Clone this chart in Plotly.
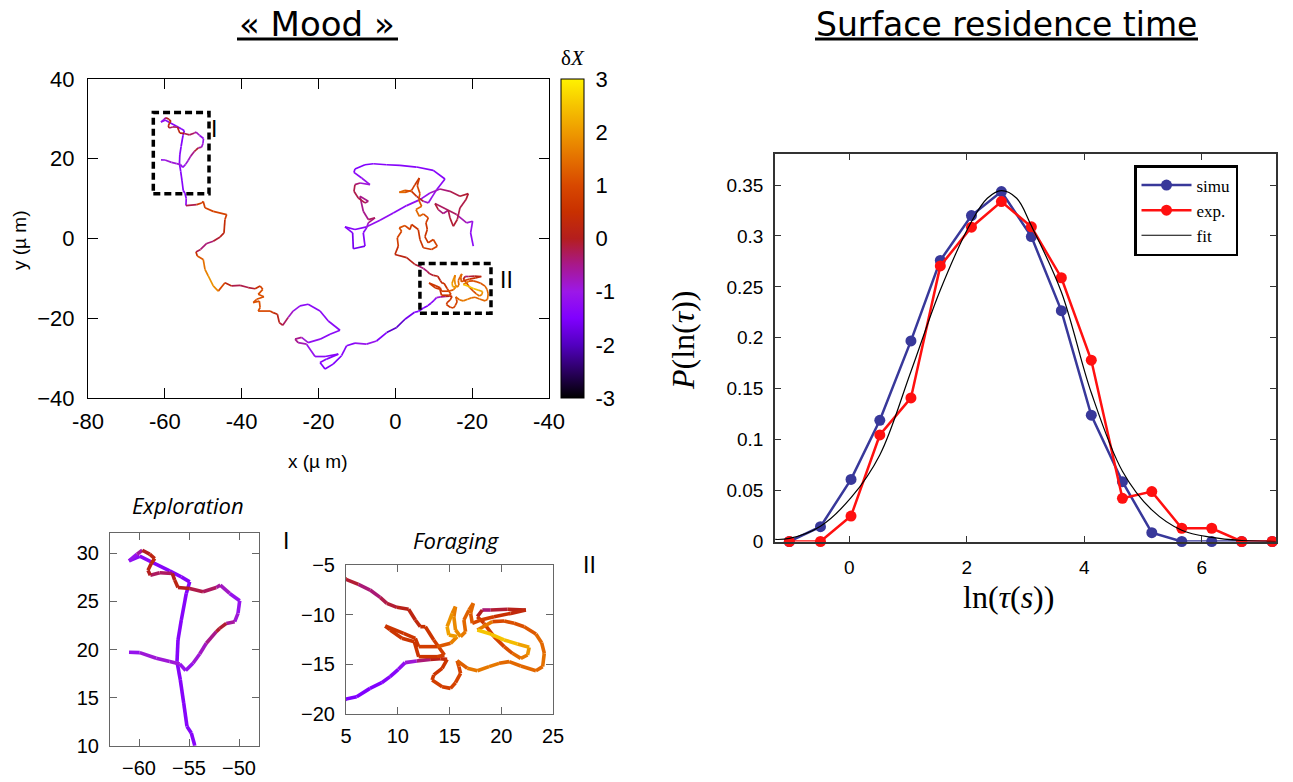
import plotly.graph_objects as go
from plotly.colors import sample_colorscale

W, H = 1293, 782

# ---------------------------------------------------------------------------
# Cell trajectory (µm) with the mood variable δX along it
# ---------------------------------------------------------------------------
explore_x = [-61.0, -59.93, -58.27, -56.93, -55.93, -55.33, -54.6, -53.93, -53.27, -52.27,
             -51.93, -51.27, -50.43, -50.1, -49.93, -50.93, -51.87, -52.27, -53.6, -54.93,
             -56.1, -56.43, -56.67, -57.93, -58.87, -59.1, -58.77, -58.43, -58.93, -59.67,
             -60.2, -61.0, -59.93, -58.77, -56.93, -55.77, -54.93, -55.27, -55.77, -56.1,
             -56.2, -55.87, -55.53, -55.2, -54.77, -54.43]
explore_y = [19.72, 19.69, 19.1, 18.76, 18.52, 17.83, 18.59, 19.55, 20.66, 21.86,
             22.2, 22.72, 22.9, 23.76, 25.07, 25.83, 26.69, 26.45, 26.0, 26.34,
             26.45, 27.21, 27.9, 27.97, 27.72, 28.24, 28.93, 29.45, 29.9, 30.31,
             29.9, 29.2, 29.69, 29.1, 28.17, 27.55, 27.03, 25.83, 23.07, 21.0,
             18.76, 16.86, 14.45, 12.03, 11.34, 10.07]
explore_dx = [-1.1, -1.0, -0.9, -0.9, -1.0, -1.3, -1.0, -0.9, -0.7, -0.3,
              0.1, -0.3, -0.8, -1.0, -1.3, -1.0, -0.7, -0.5, -0.2, -0.1,
              0.1, 0.2, -0.3, -0.4, -0.2, 0.2, 0.3, 0.3, 0.2, -0.2,
              -0.9, -1.3, -1.3, -1.3, -1.4, -1.4, -1.4, -1.4, -1.4, -1.4,
              -1.4, -1.4, -1.4, -1.4, -1.4, -1.5]

transit_x = [-54.5, -51.7, -50.4, -50.0, -49.55, -47.4, -43.9, -44.35, -44.6, -45.6,
             -47.4, -49.1, -50.7, -51.9, -51.55, -50.0, -49.55, -48.7, -47.4, -46.1,
             -44.35, -42.6, -40.4, -38.3, -36.5, -35.2, -34.5, -35.7, -34.2, -36.1,
             -37.0, -35.4, -35.2, -35.7, -32.6, -31.8, -30.7, -30.2, -29.3, -27.9,
             -26.6, -24.8, -22.7, -19.6, -17.45, -14.4, -17.0, -19.6, -22.7, -24.4,
             -26.1, -25.3, -23.1, -20.9, -18.3, -14.85, -17.9, -19.6, -18.3, -16.2,
             -14.0, -12.7, -10.5, -7.5, -4.9, -2.25, 0.35, 2.5]
transit_y = [8.25, 8.5, 8.9, 9.3, 7.7, 6.8, 6.0, 4.75, 1.4, 0.4,
             -0.7, -1.25, -2.75, -3.4, -4.4, -5.25, -7.75, -9.4, -11.9, -13.2,
             -11.1, -11.9, -11.75, -12.3, -12.6, -11.9, -12.75, -14.0, -14.6, -15.25,
             -16.1, -15.7, -17.3, -18.2, -18.2, -18.6, -19.0, -21.1, -21.75, -19.8,
             -18.2, -16.9, -16.5, -18.2, -20.7, -23.0, -24.0, -25.25, -26.1, -24.8,
             -25.25, -26.1, -26.5, -29.6, -29.6, -29.0, -30.25, -31.1, -32.75, -31.5,
             -29.4, -26.9, -26.25, -26.5, -25.7, -23.6, -22.3, -20.25]
transit_dx = [-1.0, 0.6, 0.8, 0.8, 0.8, 0.9, 1.0, 0.6, 0.2, 0.0,
              -0.3, -0.5, -0.3, -0.1, 1.2, 1.3, 1.6, 1.8, 1.9, 1.6,
              0.4, -0.1, -0.2, -0.1, 0.0, 0.9, 1.0, 1.1, 1.0, 1.1,
              1.2, 1.0, 1.2, 1.1, 0.8, 0.5, 0.2, 0.0, -0.2, -0.5,
              -1.0, -1.3, -1.3, -1.3, -1.3, -1.3, -1.3, -1.3, -1.1, -0.6,
              -0.4, -0.5, -0.9, -1.3, -1.3, -1.4, -1.4, -1.5, -1.5, -1.5,
              -1.5, -1.4, -1.3, -1.0, -1.3, -1.6, -2.2, -1.6]

forage_x = [5.0, 6.03, 7.32, 8.45, 9.26, 10.06, 10.71, 11.84, 13.13,
            14.13, 14.77, 14.29, 13.48, 13.32, 14.29, 15.10, 15.58, 16.07, 15.91,
            15.74, 16.72, 17.69, 18.82, 19.79, 20.76, 21.89, 23.35, 24.0, 24.16,
            23.9, 23.35, 22.22, 21.25, 20.28, 19.14, 17.69, 18.98, 20.28, 21.57,
            22.70, 22.54, 21.89, 21.08, 20.28, 19.30, 18.33, 17.69, 18.17, 18.98,
            20.60, 22.38, 20.92, 19.30, 18.01, 17.20, 17.04, 17.30, 16.88, 16.39,
            16.55, 16.07, 15.58, 15.42, 15.58, 15.26, 14.77, 14.94, 15.74, 15.10,
            13.80, 12.02, 11.70, 10.57, 8.79, 9.27, 10.40, 11.60, 12.02, 13.80,
            14.51, 13.48, 12.67, 12.18, 11.70, 11.05, 9.92, 8.95, 8.30, 7.33,
            6.20, 5.0, 2.95]
forage_y = [-18.49, -18.26, -17.42, -16.85, -16.24, -15.5, -14.83, -14.66, -14.5,
            -14.43, -14.50, -15.40, -16.07, -16.58, -17.25, -17.42, -16.85, -15.91, -15.23,
            -14.63, -15.40, -15.64, -15.23, -14.90, -14.73, -15.17, -15.64, -15.23, -13.89,
            -12.82, -11.95, -11.21, -10.87, -10.64, -10.70, -11.54, -11.95, -12.55, -12.95,
            -13.29, -14.06, -14.40, -13.89, -13.22, -12.21, -10.87, -10.20, -9.53, -9.53,
            -9.46, -9.53, -9.87, -10.20, -10.54, -10.87, -9.87, -8.86, -9.53, -10.54,
            -11.71, -12.21, -11.54, -10.20, -9.19, -9.87, -11.21, -12.05, -12.21, -12.89,
            -13.22, -13.22, -12.38, -11.88, -11.14, -11.54, -12.38, -12.72, -14.23, -14.23,
            -14.06, -12.55, -11.21, -11.21, -10.54, -9.46, -9.26, -8.86, -8.26, -7.52,
            -6.95, -6.44, -4.8]
forage_dx = [-1.5, -1.5, -1.5, -1.5, -1.4, -1.3, -1.1, -0.6, -0.3,
             0.2, 0.5, 0.6, 0.7, 0.7, 0.8, 0.8, 0.9, 0.9, 1.0,
             1.1, 1.5, 1.7, 1.6, 1.5, 1.4, 1.5, 1.4, 1.5, 1.5,
             1.4, 1.3, 1.2, 1.1, 1.0, 1.0, 2.3, 2.6, 2.5, 2.3,
             2.0, 1.7, 1.5, 1.2, 1.0, 0.9, 0.7, 0.5, -0.5, -0.3,
             0.0, 0.2, 0.4, 0.6, 0.9, 1.1, 1.3, 1.4, 1.3, 1.3,
             1.5, 1.7, 1.8, 1.7, 1.6, 1.8, 2.0, 2.2, 1.9, 1.5,
             1.0, 0.7, 0.6, 0.6, 0.5, 0.5, 0.6, 0.6, 0.6, 0.7,
             0.8, 0.7, 0.5, 0.4, 0.3, 0.2, 0.0, -0.2, -0.3, -0.5,
             -0.3, 0.0, 0.1]

cluster_x = [-0.09, 0.77, 0.51, 1.64, 1.03, 2.51, 3.81, 4.24, 5.98, 6.41,
             7.28, 9.45, 10.92, 9.88, 8.58, 7.71, 8.32, 7.97, 8.58, 7.28,
             6.24, 5.37, 6.85, 6.07, 6.41, 5.72, 6.24, 5.11, 4.24, 2.51,
             1.03, 2.51, 4.24, 5.54, 7.28, 8.58, 10.75, 12.92, 9.88, 5.54,
             1.21, -2.26, -5.73, -7.9, -10.51, -10.77, -8.77, -6.6, -9.2, -10.51,
             -10.77, -9.64, -7.9, -7.04, -9.2, -8.34, -7.04, -5.3, -7.04, -7.47,
             -8.34, -7.9, -10.94, -11.11, -13.11, -10.51, -7.47, -4.0, -0.53, 2.94,
             6.41, 9.02, 11.62, 14.22, 16.82, 18.99, 18.39, 16.82, 16.13, 15.09,
             14.22, 13.79, 12.49, 11.18, 10.32, 15.96, 18.56, 20.12, 19.6, 20.29]
cluster_y = [-4.0, -1.92, 0.17, 1.83, 2.67, 3.25, 2.25, 3.5, 2.25, -0.25,
             -2.33, -2.75, -1.92, -0.25, -1.08, 0.42, 2.25, 3.92, 5.17, 6.17,
             5.58, 7.25, 8.08, 9.75, 11.25, 13.25, 15.17, 13.5, 12.08, 11.58,
             11.58, 12.08, 11.83, 10.58, 9.33, 8.92, 12.25, 14.92, 17.08, 17.92,
             18.33, 18.5, 18.75, 18.5, 17.42, 16.58, 15.17, 13.5, 13.92, 13.5,
             11.83, 10.17, 8.92, 9.33, 10.58, 6.83, 4.75, 5.17, 3.92, 2.67,
             1.42, -1.92, -2.58, 1.42, 2.92, 2.25, 2.92, 4.58, 6.42, 8.25,
             9.75, 11.42, 12.42, 11.83, 10.58, 11.25, 9.75, 7.67, 4.75, 3.08,
             5.17, 7.08, 6.25, 7.25, 8.75, 6.0, 3.92, 4.33, 1.42, -1.92]
cluster_dx = [0.3, 0.6, 0.9, 1.0, 1.1, 1.0, 0.8, 0.7, 0.6, 0.5,
              0.6, 0.8, 1.0, 0.9, 0.7, 0.6, 0.6, 0.7, 0.8, 1.2,
              1.4, 1.5, 1.3, 1.2, 1.1, 0.9, 0.5, 0.7, 1.0, 1.3,
              1.4, 1.2, 0.9, 0.3, -0.5, -1.0, -1.2, -1.4, -1.4, -1.4,
              -1.4, -1.4, -1.5, -1.5, -1.5, -1.4, -1.2, -1.1, -0.6, -0.3,
              -0.2, -0.1, -0.3, -0.6, -0.4, -0.5, -0.4, -0.3, -0.7, -1.2,
              -1.4, -1.5, -1.6, -1.5, -1.3, -1.4, -1.3, -1.2, -1.3, -1.3,
              -1.2, -1.0, -0.6, -0.3, -0.1, 0.0, -0.1, -0.2, -0.1, 0.0,
              -0.1, -0.4, -0.5, -0.3, 0.0, -0.6, -0.8, -1.0, -1.2, -1.4]

track_x = explore_x + transit_x + forage_x + cluster_x
track_y = explore_y + transit_y + forage_y + cluster_y
track_dx = explore_dx + transit_dx + forage_dx + cluster_dx

# zoom windows marked on the full track
box_I_x, box_I_y = [-63.0, -48.5], [11.2, 31.6]
box_II_x, box_II_y = [6.4, 24.9], [-18.75, -6.3]

main_xticks = [-80, -60, -40, -20, 0, 20, 40]
main_xticklabels = ["-80", "-60", "-40", "-20", "0", "-20", "-40"]
main_yticks = [-40, -20, 0, 20, 40]
dx_ticks = [3, 2, 1, 0, -1, -2, -3]
dx_band_edges = [2, 1, 0, -2]

# ---------------------------------------------------------------------------
# Surface residence time distribution
# ---------------------------------------------------------------------------
ln_tau = [-1.02, -0.49, 0.03, 0.52, 1.05, 1.55, 2.08, 2.59, 3.10, 3.61,
          4.12, 4.65, 5.15, 5.66, 6.17, 6.68, 7.20]
p_simu = [0.0, 0.0145, 0.061, 0.119, 0.197, 0.276, 0.320, 0.3436, 0.2994, 0.2267,
          0.124, 0.0587, 0.0087, 0.0, 0.0, 0.0, 0.0]
p_exp = [0.0, 0.0, 0.025, 0.1046, 0.141, 0.2706, 0.3086, 0.3338, 0.309, 0.259,
         0.178, 0.0424, 0.049, 0.013, 0.013, 0.0, 0.0]
fit_x = [-1.26, -1.02, -0.49, 0.03, 0.52, 1.05, 1.55, 2.08, 2.35, 2.59,
         2.85, 3.10, 3.61, 4.12, 4.65, 5.15, 5.66, 6.17, 6.68, 7.26]
fit_p = [0.002, 0.003, 0.015, 0.043, 0.085, 0.167, 0.247, 0.314, 0.337, 0.3445,
         0.337, 0.31, 0.245, 0.146, 0.069, 0.031, 0.011, 0.004, 0.001, 0.0]

# ---------------------------------------------------------------------------
DX_SCALE = [[0.0, "#000000"], [0.0833, "#2a0060"], [0.1667, "#5200c0"],
            [0.25, "#8000ff"], [0.3333, "#9c18e8"], [0.4167, "#a8188c"],
            [0.5, "#b41e1e"], [0.5833, "#c83000"], [0.6667, "#d84800"],
            [0.75, "#e47000"], [0.8333, "#ee9a00"], [0.9167, "#f6c400"],
            [1.0, "#fff200"]]

SANS = "Liberation Sans, Arial, sans-serif"
SERIF = "Liberation Serif, Times New Roman, serif"
ITAL = "Open Sans, Noto Sans, sans-serif"
TITLE = "DejaVu Sans, Open Sans, sans-serif"

fig = go.Figure()


def add_track(xa, ya, width):
    """Draw the track as line segments coloured by the mean δX of their ends."""
    groups = {}
    for i in range(len(track_x) - 1):
        v = round((track_dx[i] + track_dx[i + 1]) / 2, 1)
        gx, gy = groups.setdefault(v, ([], []))
        gx += [track_x[i], track_x[i + 1], None]
        gy += [track_y[i], track_y[i + 1], None]
    for v in sorted(groups):
        gx, gy = groups[v]
        col = sample_colorscale(DX_SCALE, [(v + 3) / 6])[0]
        fig.add_trace(go.Scatter(x=gx, y=gy, mode="lines", xaxis=xa, yaxis=ya,
                                 line=dict(color=col, width=width),
                                 showlegend=False, hoverinfo="skip"))


add_track("x", "y", 1.7)
add_track("x2", "y2", 3.6)
add_track("x3", "y3", 3.6)

# colour scale of δX
CB_L, CB_R, CB_T, CB_B = 561, 584, 79, 398
fig.add_trace(go.Scatter(
    x=track_x, y=track_y, mode="markers", xaxis="x", yaxis="y",
    marker=dict(size=1, opacity=0, color=track_dx, colorscale=DX_SCALE, cmin=-3, cmax=3,
                showscale=True,
                colorbar=dict(x=CB_L / W, xanchor="left", y=1 - CB_B / H, yanchor="bottom",
                              len=CB_B - CB_T, lenmode="pixels",
                              thickness=CB_R - CB_L, thicknessmode="pixels",
                              xpad=0, ypad=0, outlinewidth=1, outlinecolor="black",
                              tickvals=dx_ticks, ticktext=[str(t) for t in dx_ticks],
                              ticks="outside", ticklen=7, tickcolor="rgba(0,0,0,0)",
                              tickfont=dict(family=SANS, size=22, color="black"))),
    showlegend=False, hoverinfo="skip"))

# residence time curves
fig.add_trace(go.Scatter(x=ln_tau, y=p_simu, mode="lines+markers", name="simu",
                         xaxis="x4", yaxis="y4", cliponaxis=False,
                         line=dict(color="#38389a", width=2.5),
                         marker=dict(color="#38389a", size=11)))
fig.add_trace(go.Scatter(x=ln_tau, y=p_exp, mode="lines+markers", name="exp.",
                         xaxis="x4", yaxis="y4", cliponaxis=False,
                         line=dict(color="#ff1010", width=2.5),
                         marker=dict(color="#ff1010", size=11)))
fig.add_trace(go.Scatter(x=fit_x, y=fit_p, mode="lines", name="fit",
                         xaxis="x4", yaxis="y4",
                         line=dict(color="black", width=1.2, shape="spline")))

# ---------------------------------------------------------------------------
def dom_x(a, b):
    return [a / W, b / W]


def dom_y(top, bottom):
    return [1 - bottom / H, 1 - top / H]


def frame(color, ticklen, size, **kw):
    d = dict(showgrid=False, zeroline=False, showline=True, mirror="ticks",
             ticks="inside", linecolor=color, tickcolor=color, linewidth=1,
             ticklen=ticklen, tickwidth=1, automargin=False,
             tickfont=dict(family=SANS, size=size, color="black"))
    d.update(kw)
    return d


shapes = []
for bx, by in ((box_I_x, box_I_y), (box_II_x, box_II_y)):
    shapes.append(dict(type="rect", xref="x", yref="y", x0=bx[0], x1=bx[1], y0=by[0], y1=by[1],
                       line=dict(color="black", width=3.5, dash="7px,4px")))
for v in dx_band_edges:
    yy = 1 - (CB_B - (v + 3) / 6 * (CB_B - CB_T)) / H
    shapes.append(dict(type="line", xref="paper", yref="paper", x0=CB_L / W, x1=CB_R / W,
                       y0=yy, y1=yy, line=dict(color="#222222", width=1)))
# title underlines
shapes.append(dict(type="line", xref="paper", yref="paper", x0=237 / W, x1=398 / W,
                   y0=1 - 39 / H, y1=1 - 39 / H, line=dict(color="black", width=3)))
shapes.append(dict(type="line", xref="paper", yref="paper", x0=815 / W, x1=1198 / W,
                   y0=1 - 39 / H, y1=1 - 39 / H, line=dict(color="black", width=3)))


def label(text, px, py, size, family=SANS, angle=0, yanchor="middle"):
    return dict(text=text, x=px / W, y=1 - py / H, xref="paper", yref="paper",
                xanchor="center", yanchor=yanchor, showarrow=False, textangle=angle,
                font=dict(family=family, size=size, color="black"))


annotations = [
    label("« Mood »", 317, 2, 34, TITLE, yanchor="top"),
    label("Surface residence time", 1006, 3, 33, TITLE, yanchor="top"),
    label("x (µ m)", 318, 462, 19),
    label("y (µ m)", 20, 240, 19, angle=-90),
    label("δ<i>X</i>", 573, 58, 21, SERIF),
    label("I", 214, 129, 23),
    label("II", 506, 280, 23),
    label("<i>Exploration</i>", 188, 505, 22, ITAL),
    label("<i>Foraging</i>", 456, 540, 22, ITAL),
    label("I", 286, 541, 23),
    label("II", 589, 565, 23),
    label("ln(<i>τ</i>(<i>s</i>))", 1008, 597, 32, SERIF),
    label("<i>P</i>(ln(<i>τ</i>))", 683, 340, 32, SERIF, angle=-90),
]

fig.update_layout(
    width=W, height=H, margin=dict(l=0, r=0, t=0, b=0, autoexpand=False),
    paper_bgcolor="white", plot_bgcolor="white",
    font=dict(family=SANS, color="black"),
    xaxis=frame("black", 10, 22, domain=dom_x(88, 549), range=[-80, 40], anchor="y",
                tickvals=main_xticks, ticktext=main_xticklabels, ticklabelstandoff=4),
    yaxis=frame("black", 10, 22, domain=dom_y(79, 398), range=[-40, 40], anchor="x",
                tickvals=main_yticks, ticklabelstandoff=8),
    xaxis2=frame("#666666", 7, 20, domain=dom_x(110, 259), range=[-62.9, -48], anchor="y2",
                 tickvals=[-60, -55, -50], ticklabelstandoff=4),
    yaxis2=frame("#666666", 7, 20, domain=dom_y(533, 746), range=[10, 32.1], anchor="x2",
                 tickvals=[10, 15, 20, 25, 30], ticklabelstandoff=6),
    xaxis3=frame("#666666", 7, 20, domain=dom_x(346, 553), range=[5, 25], anchor="y3",
                 tickvals=[5, 10, 15, 20, 25], ticklabelstandoff=4),
    yaxis3=frame("#666666", 7, 20, domain=dom_y(565, 714), range=[-20, -5], anchor="x3",
                 tickvals=[-20, -15, -10, -5], ticklabelstandoff=6),
    xaxis4=frame("#333333", 6, 19, domain=dom_x(775, 1276), range=[-1.264, 7.264], anchor="y4",
                 tickvals=[0, 2, 4, 6], ticklabelstandoff=8, linewidth=1.5),
    yaxis4=frame("#333333", 6, 19, domain=dom_y(154, 541.5), range=[0, 0.3805], anchor="x4",
                 tickvals=[0, 0.05, 0.1, 0.15, 0.2, 0.25, 0.3, 0.35], ticklabelstandoff=6,
                 linewidth=1.5),
    legend=dict(x=1134 / W, y=1 - 165 / H, xanchor="left", yanchor="top",
                bgcolor="white", bordercolor="black", borderwidth=2.5,
                font=dict(family=SERIF, size=17, color="black"),
                itemwidth=50, tracegroupgap=0),
    shapes=shapes,
    annotations=annotations,
)

fig.write_html("out.html")
